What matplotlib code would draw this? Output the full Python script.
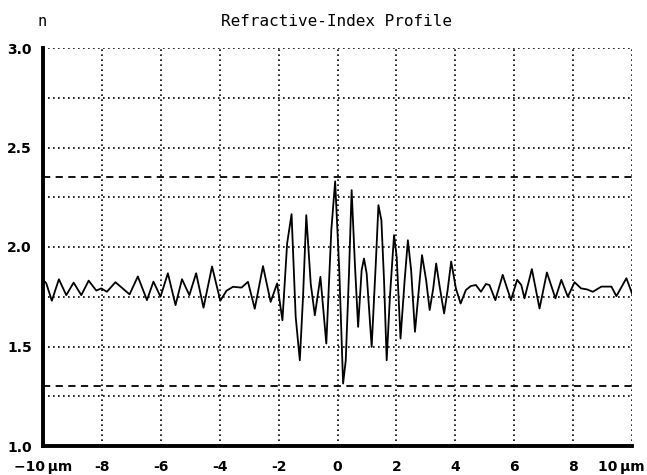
import matplotlib

matplotlib.use("Agg")
import matplotlib.pyplot as plt
import numpy as np

# refractive-index profile (x in um, n)
x_um = [
    -10.0, -9.89, -9.70, -9.46, -9.21, -8.96, -8.70, -8.45, -8.19, -8.02,
    -7.83, -7.54, -7.06, -6.78, -6.47, -6.25, -6.01, -5.76, -5.50, -5.28,
    -5.03, -4.80, -4.55, -4.26, -3.98, -3.77, -3.55, -3.26, -3.04, -2.81,
    -2.53, -2.27, -2.05, -1.87, -1.71, -1.56, -1.42, -1.28, -1.17, -1.06,
    -0.91, -0.77, -0.58, -0.38, -0.21, -0.08, 0.06, 0.19, 0.28, 0.39,
    0.48, 0.59, 0.70, 0.82, 0.90, 0.99, 1.16, 1.30, 1.39, 1.49,
    1.58, 1.67, 1.78, 1.92, 2.01, 2.14, 2.28, 2.39, 2.50, 2.63,
    2.76, 2.87, 3.01, 3.13, 3.25, 3.35, 3.47, 3.62, 3.74, 3.86,
    4.02, 4.18, 4.36, 4.53, 4.70, 4.87, 5.04, 5.16, 5.36, 5.61,
    5.89, 6.10, 6.24, 6.35, 6.60, 6.86, 7.11, 7.40, 7.60, 7.82,
    8.05, 8.27, 8.47, 8.67, 8.96, 9.30, 9.47, 9.81, 10.0,
]
n_profile = [
    1.835, 1.818, 1.730, 1.838, 1.758, 1.821, 1.758, 1.831, 1.781, 1.792,
    1.775, 1.823, 1.762, 1.852, 1.733, 1.826, 1.750, 1.868, 1.708, 1.838,
    1.758, 1.868, 1.695, 1.902, 1.730, 1.780, 1.800, 1.796, 1.825, 1.690,
    1.904, 1.724, 1.817, 1.632, 2.018, 2.165, 1.649, 1.431, 1.750, 2.160,
    1.817, 1.657, 1.850, 1.515, 2.085, 2.330, 1.884, 1.314, 1.430, 1.867,
    2.286, 1.917, 1.599, 1.884, 1.942, 1.867, 1.498, 1.917, 2.210, 2.135,
    1.833, 1.431, 1.750, 2.060, 1.950, 1.540, 1.833, 2.034, 1.884, 1.574,
    1.783, 1.959, 1.833, 1.683, 1.791, 1.917, 1.800, 1.666, 1.784, 1.927,
    1.792, 1.716, 1.784, 1.804, 1.809, 1.775, 1.814, 1.809, 1.733, 1.860,
    1.733, 1.835, 1.809, 1.742, 1.889, 1.691, 1.872, 1.742, 1.835, 1.750,
    1.823, 1.792, 1.787, 1.775, 1.801, 1.801, 1.753, 1.843, 1.767,
]

n_upper = 2.35
n_lower = 1.30

x_ticks = [-10, -8, -6, -4, -2, 0, 2, 4, 6, 8, 10]
x_labels = ["\u221210\u2009\u00b5m", "-8", "-6", "-4", "-2", "0", "2", "4", "6", "8", "10\u2009\u00b5m"]
y_ticks = [1.0, 1.5, 2.0, 2.5, 3.0]
y_labels = ["1.0", "1.5", "2.0", "2.5", "3.0"]
y_minor = [1.25, 1.75, 2.25, 2.75]

W, H = 647, 475
fig = plt.figure(figsize=(W / 100, H / 100), dpi=100)
ax = fig.add_axes([43 / W, 1 - 446 / H, (632 - 43) / W, (446 - 48) / H])

dotted = dict(color="black", linestyle=(0, (1, 2)), linewidth=1.2)
for yv in y_ticks[1:] + y_minor:
    ax.axhline(yv, zorder=1, **dotted)
for xv in x_ticks[1:]:
    ax.axvline(xv, zorder=1, **dotted)

for yv in (n_upper, n_lower):
    ax.axhline(yv, color="black", linestyle=(0, (4, 3)), linewidth=1.3, zorder=2)

ax.plot(x_um, n_profile, color="black", linewidth=1.3, zorder=3)

ax.set_xlim(-10, 10)
ax.set_ylim(1.0, 3.0)
ax.set_xticks(x_ticks)
ax.set_xticklabels(x_labels[:-1] + [""])
ax.set_yticks(y_ticks)
ax.set_yticklabels(y_labels)
ax.tick_params(length=0, labelsize=10)
ax.tick_params(axis="x", pad=10)
ax.tick_params(axis="y", pad=8)
for lab in ax.get_xticklabels() + ax.get_yticklabels():
    lab.set_fontweight("bold")

# last x label sits near the figure edge; nudge it left so it is not cut off
ax.annotate(x_labels[-1], xy=(x_ticks[-1], 0), xycoords=("data", "axes fraction"),
            xytext=(-8, -10), textcoords="offset points", ha="center", va="top",
            fontsize=10, fontweight="bold")

for side in ("top", "right"):
    ax.spines[side].set_visible(False)
for side in ("left", "bottom"):
    ax.spines[side].set_linewidth(2.8)

fig.text(42 / W, 1 - 21 / H, "n", ha="center", va="center", fontsize=11,
         family="DejaVu Sans Mono")
fig.text(337 / W, 1 - 21 / H, "Refractive-Index Profile", ha="center", va="center",
         fontsize=11.5, family="DejaVu Sans Mono")

fig.savefig("out.png", dpi=100)
